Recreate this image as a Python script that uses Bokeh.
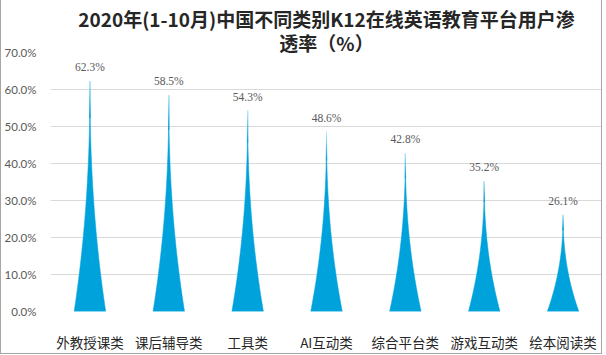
from bokeh.plotting import figure
from bokeh.models import ColumnDataSource, FixedTicker, LabelSet, Title
from bokeh.embed import file_html
from bokeh.resources import INLINE

categories = ["外教授课类", "课后辅导类", "工具类", "AI互动类", "综合平台类", "游戏互动类", "绘本阅读类"]
values = [62.3, 58.5, 54.3, 48.6, 42.8, 35.2, 26.1]
y_ticks = [0, 10, 20, 30, 40, 50, 60, 70]
title_line1 = "2020年(1-10月)中国不同类别K12在线英语教育平台用户渗"
title_line2 = "透率（%）"

BASE = (0, 162, 220)
TOP = (235, 248, 253)
HALF_W = 0.2
N = 50
FADE_START = 0.84
EXP = 2.2

def hex_c(c):
    return "#%02x%02x%02x" % tuple(int(round(v)) for v in c)

def hw(t):
    return HALF_W * (1 - t) ** EXP

p = figure(width=602, height=354, output_backend="svg", toolbar_location=None,
           x_range=(-0.5, len(categories) - 0.5), y_range=(0, 70))
p.styles = {"border-left": "1px solid #A6A6A6", "border-right": "1px solid #A6A6A6",
            "border-bottom": "1px solid #A6A6A6"}
p.min_border_left = 49
p.min_border_right = 1
p.min_border_top = 52
p.min_border_bottom = 32
p.outline_line_color = None
p.background_fill_color = "white"
p.border_fill_color = "white"

# title (two lines, stacked above the frame)
t2 = Title(text=title_line2, align="center", offset=-29, text_font="Noto Sans CJK SC",
           text_font_style="bold", text_font_size="19px", text_color="#262626",
           standoff=-6)
t1 = Title(text=title_line1, align="center", offset=-24, text_font="Noto Sans CJK SC",
           text_font_style="bold", text_font_size="19px", text_color="#262626",
           standoff=-4)
p.add_layout(t2, "above")
p.add_layout(t1, "above")

# spike-shaped bars
xs_all, ys_all, cols = [], [], []
for i, v in enumerate(values):
    ts = [k / N for k in range(N + 1)]
    left = [(i - hw(t), v * t) for t in ts]
    right = [(i + hw(t), v * t) for t in reversed(ts)]
    pts = left + right
    xs_all.append([q[0] for q in pts])
    ys_all.append([q[1] for q in pts])
    cols.append(hex_c(BASE))
p.patches(xs_all, ys_all, fill_color=cols, line_color=cols, line_width=0.5)

# gradient tip slices
sx, sy, sc = [], [], []
for i, v in enumerate(values):
    M = 20
    for k in range(M):
        t0 = FADE_START + (1 - FADE_START) * k / M
        t1_ = FADE_START + (1 - FADE_START) * (k + 1) / M
        f = (k + 0.5) / M
        c = tuple(BASE[j] + (TOP[j] - BASE[j]) * f ** 1.2 for j in range(3))
        sx.append([i - hw(t0), i + hw(t0), i + hw(t1_), i - hw(t1_)])
        sy.append([v * t0, v * t0, v * t1_, v * t1_])
        sc.append(hex_c(c))
p.patches(sx, sy, fill_color=sc, line_color=sc, line_width=0.6)

# data labels
src = ColumnDataSource(dict(x=list(range(len(values))), y=values,
                            t=["%.1f%%" % v for v in values]))
p.add_layout(LabelSet(x="x", y="y", text="t", source=src, y_offset=8,
                      text_align="center", text_baseline="bottom",
                      text_font_size="11.5px", text_color="#595959", text_font="Lato"))

# axes
p.yaxis.ticker = FixedTicker(ticks=y_ticks)
p.yaxis.major_label_overrides = {t: "%.1f%%" % t for t in y_ticks}
p.yaxis.axis_line_color = None
p.yaxis.major_tick_line_color = None
p.yaxis.minor_tick_line_color = None
p.yaxis.major_label_text_font = "Lato"
p.yaxis.major_label_text_font_size = "11.5px"
p.yaxis.major_label_text_color = "#595959"
p.yaxis.major_label_standoff = 8

p.xaxis.ticker = FixedTicker(ticks=list(range(len(categories))))
p.xaxis.major_label_overrides = {i: c for i, c in enumerate(categories)}
p.xaxis.axis_line_color = None
p.xaxis.major_tick_line_color = None
p.xaxis.minor_tick_line_color = None
p.xaxis.major_label_text_font = "Noto Sans CJK SC"
p.xaxis.major_label_text_font_size = "13.5px"
p.xaxis.major_label_text_color = "#262626"
p.xaxis.major_label_standoff = 14

p.xgrid.grid_line_color = None
p.ygrid.ticker = FixedTicker(ticks=y_ticks)
p.ygrid.grid_line_color = "#D9D9D9"
p.ygrid.grid_line_width = 1

open("out.html", "w").write(file_html(p, INLINE))
